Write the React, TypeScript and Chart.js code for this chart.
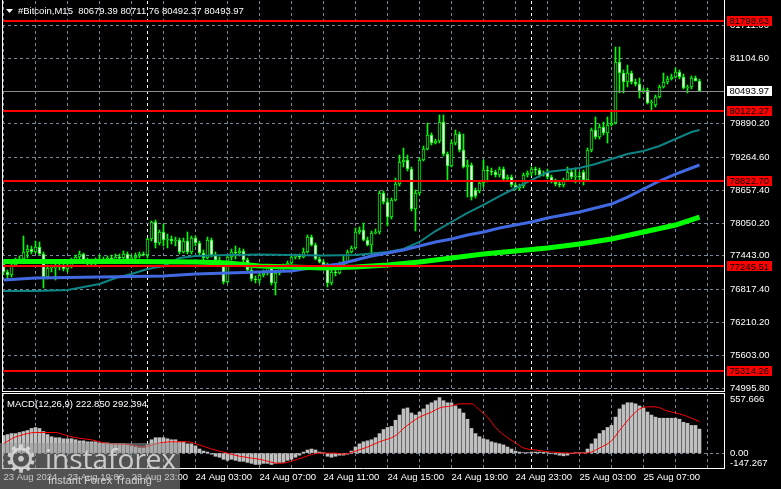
import React, { useEffect, useRef } from "react";
import { Chart, registerables } from "chart.js";

Chart.register(...registerables);

// ---------- DATA ----------
const symbolName = "#Bitcoin,M15";

const open: number[] = [
  77292, 77144, 77088, 77273, 77347, 77384, 77514, 77569, 77514, 77606,
  77477, 77051, 77218, 77218, 77236, 77255, 77199, 77255, 77329, 77421,
  77477, 77366, 77310, 77329, 77347, 77384, 77366, 77402, 77366, 77421,
  77402, 77477, 77384, 77402, 77440, 77477, 77458, 77754, 78069, 77680,
  77884, 77736, 77754, 77717, 77736, 77514, 77717, 77514, 77773, 77680,
  77495, 77402, 77736, 77458, 77366, 77310, 76958, 77421, 77514, 77495,
  77532, 77366, 77181, 77014, 76995, 77088, 77125, 77236, 76940, 77125,
  77218, 77236, 77310, 77421, 77440, 77421, 77514, 77791, 77643, 77384,
  77329, 77273, 76940, 77144, 77125, 77273, 77329, 77514, 77588, 77884,
  77921, 77736, 77643, 77865, 77884, 78606, 78439, 78161, 78476, 78772,
  79180, 79217, 79050, 78310, 78606, 79217, 79420, 79679, 79531, 79568,
  79920, 79328, 79105, 79531, 79698, 79402, 79087, 79124, 78661, 78643,
  78791, 79031, 79013, 78994, 78939, 79050, 78865, 78902, 78754, 78698,
  78735, 78939, 78976, 79050, 79031, 78939, 78994, 78902, 78809, 78772,
  78754, 78846, 78994, 78902, 78920, 78994, 78846, 79402, 79772, 79642,
  79827, 79717, 79864, 79901, 81031, 80827, 80660, 80827, 80660, 80623,
  80494, 80512, 80272, 80235, 80383, 80568, 80660, 80716, 80753, 80845,
  80753, 80549, 80568, 80734, 80679.39,
];

const high: number[] = [
  77347, 77181, 77329, 77402, 77440, 77810, 77643, 77625, 77717, 77699,
  77514, 77273, 77273, 77292, 77292, 77292, 77310, 77402, 77458, 77532,
  77495, 77402, 77384, 77402, 77458, 77421, 77440, 77458, 77477, 77477,
  77532, 77514, 77458, 77495, 77514, 77514, 77773, 78088, 78106, 77921,
  78032, 77847, 77810, 77791, 77773, 77773, 77884, 77810, 77810, 77717,
  77551, 77791, 77773, 77514, 77421, 77347, 77458, 77569, 77625, 77588,
  77569, 77402, 77218, 77070, 77144, 77181, 77273, 77273, 77181, 77273,
  77292, 77347, 77458, 77477, 77477, 77588, 77828, 77828, 77680, 77421,
  77366, 77310, 77218, 77199, 77329, 77458, 77551, 77625, 77958, 77977,
  78050, 77791, 77902, 77939, 78643, 78643, 78513, 78513, 78883, 79309,
  79439, 79309, 79087, 78661, 79254, 79476, 79901, 79717, 79605, 80050,
  80050, 79365, 79587, 79772, 79735, 79698, 79217, 79161, 78698, 78828,
  79217, 79105, 79068, 79031, 79087, 79087, 78939, 78939, 78791, 78772,
  78976, 79013, 79087, 79087, 79068, 79013, 79050, 78939, 78865, 78828,
  78883, 79087, 79031, 79068, 78994, 79031, 79439, 79809, 80013, 79883,
  79920, 80013, 80142, 81308, 81308, 80883, 80975, 80864, 80716, 80734,
  80549, 80549, 80327, 80420, 80605, 80827, 80771, 80808, 80920, 80883,
  80808, 80605, 80771, 80771, 80711.76,
];

const low: number[] = [
  77088, 77014, 77051, 77255, 77310, 77366, 77402, 77477, 77495, 77458,
  76847, 77014, 77144, 76995, 77181, 77162, 77144, 77218, 77310, 77366,
  77329, 77273, 77255, 77273, 77329, 77329, 77329, 77329, 77329, 77347,
  77366, 77347, 77347, 77366, 77402, 77440, 77402, 77717, 77588, 77643,
  77625, 77588, 77662, 77625, 77477, 77495, 77477, 77477, 77625, 77458,
  77366, 77384, 77421, 77329, 77255, 76921, 76940, 77366, 77384, 77440,
  77329, 77144, 76977, 76940, 76940, 77051, 77088, 76903, 76718, 77088,
  77181, 77218, 77292, 77384, 77384, 77402, 77495, 77625, 77366, 77310,
  77236, 76866, 76903, 77070, 77107, 77236, 77310, 77495, 77569, 77847,
  77717, 77625, 77458, 77847, 77847, 78402, 77995, 78124, 78457, 78735,
  79087, 79013, 78273, 77902, 78568, 79198, 79402, 79494, 79513, 79531,
  79291, 78846, 79087, 79494, 79365, 79068, 78531, 78476, 78513, 78606,
  78717, 78809, 78939, 78902, 78902, 78828, 78828, 78717, 78661, 78661,
  78698, 78902, 78920, 78939, 78902, 78920, 78865, 78791, 78735, 78717,
  78717, 78828, 78865, 78791, 78846, 78754, 78828, 79365, 79605, 79605,
  79679, 79531, 79846, 79883, 80457, 80457, 80568, 80623, 80586, 80364,
  80457, 80253, 80142, 80198, 80364, 80549, 80623, 80697, 80734, 80716,
  80531, 80457, 80531, 80679, 80492.37,
];

const close: number[] = [
  77144, 77088, 77273, 77347, 77384, 77514, 77569, 77514, 77606, 77477,
  77051, 77218, 77236, 77236, 77255, 77199, 77255, 77329, 77421, 77477,
  77366, 77310, 77329, 77347, 77384, 77366, 77402, 77366, 77421, 77402,
  77477, 77384, 77402, 77440, 77477, 77458, 77754, 78069, 77680, 77884,
  77736, 77754, 77717, 77736, 77514, 77717, 77514, 77773, 77680, 77495,
  77402, 77736, 77458, 77366, 77310, 76958, 77421, 77514, 77495, 77532,
  77366, 77181, 77014, 76995, 77088, 77125, 77236, 76940, 77125, 77218,
  77236, 77310, 77421, 77440, 77421, 77514, 77791, 77643, 77384, 77329,
  77273, 76940, 77144, 77125, 77273, 77329, 77514, 77588, 77884, 77921,
  77736, 77643, 77865, 77884, 78606, 78439, 78161, 78476, 78772, 79180,
  79217, 79050, 78310, 78606, 79217, 79420, 79679, 79531, 79568, 79920,
  79328, 79105, 79531, 79698, 79402, 79087, 79124, 78531, 78550, 78791,
  79031, 79013, 78994, 78939, 79050, 78865, 78902, 78754, 78698, 78735,
  78939, 78976, 79050, 79031, 78939, 78957, 78902, 78809, 78772, 78754,
  78846, 78994, 78902, 78920, 78902, 78846, 79402, 79772, 79642, 79827,
  79717, 79864, 79901, 81031, 80827, 80660, 80827, 80660, 80623, 80494,
  80512, 80272, 80290, 80383, 80568, 80660, 80716, 80753, 80845, 80753,
  80549, 80568, 80734, 80679, 80493.97,
];

// moving averages (bar index -> value)
const tealIdx = [0, 8, 16, 20, 24, 28, 32, 36, 40, 44, 48, 56, 64, 72, 80, 88, 96, 100, 104, 108, 112, 116, 120, 124, 128, 132, 136, 140, 144, 148, 152, 156, 160, 164, 168, 172, 174];
const tealVal = [76792, 76792, 76810, 76866, 76921, 77033, 77107, 77199, 77255, 77402, 77440, 77458, 77468, 77458, 77449, 77458, 77514, 77569, 77699, 77902, 78069, 78236, 78384, 78550, 78698, 78846, 78994, 79031, 79068, 79143, 79235, 79328, 79383, 79476, 79605, 79735, 79772];

const blueIdx = [0, 8, 16, 32, 40, 44, 48, 56, 64, 72, 80, 84, 88, 92, 96, 100, 104, 108, 112, 116, 120, 124, 128, 132, 136, 140, 144, 148, 152, 156, 160, 164, 168, 174];
const blueVal = [76995, 77033, 77042, 77060, 77070, 77088, 77107, 77125, 77144, 77162, 77255, 77292, 77366, 77440, 77495, 77551, 77625, 77699, 77754, 77828, 77884, 77958, 78013, 78069, 78143, 78198, 78254, 78328, 78402, 78531, 78680, 78828, 78957, 79124];

const limeIdx = [0, 16, 32, 48, 56, 64, 72, 80, 88, 96, 104, 112, 120, 128, 136, 144, 152, 160, 168, 174];
const limeVal = [77338, 77338, 77338, 77329, 77310, 77255, 77236, 77218, 77236, 77273, 77329, 77402, 77477, 77532, 77588, 77662, 77754, 77884, 78013, 78161];

// horizontal levels and last price
const levels = [81798.63, 80122.27, 78822.7, 77245.51, 75314.26];
const lastPrice = 80493.97;

// price axis
const priceRange = [74922.3, 82159.7];
const priceTicks = [74995.8, 75603.0, 76210.2, 76817.4, 77443.0, 78050.2, 78657.4, 79264.6, 79890.2, 81104.6, 81711.0];

// time axis
const timeLabelIdx = [0, 16, 32, 48, 64, 80, 96, 112, 128, 144, 160];
const timeLabels = ["23 Aug 2024", "23 Aug 19:00", "23 Aug 23:00", "24 Aug 03:00", "24 Aug 07:00", "24 Aug 11:00", "24 Aug 15:00", "24 Aug 19:00", "24 Aug 23:00", "25 Aug 03:00", "25 Aug 07:00"];
const daySepIdx = [36, 132];

// MACD
const macdParams = "MACD(12,26,9)";
const macdMain = 222.85;
const macdSignalLast = 292.394;
const macdRange = [-147.267, 557.666];
const macdHist: number[] = [
  162, 172, 181, 181, 191, 200, 210, 229, 238, 229,
  200, 172, 152, 143, 143, 133, 133, 133, 124, 114,
  114, 105, 105, 105, 95, 95, 95, 86, 86, 86,
  86, 76, 67, 57, 48, 48, 76, 124, 143, 143,
  143, 133, 124, 124, 105, 105, 86, 86, 67, 38,
  19, 10, -10, -29, -38, -57, -67, -57, -67, -76,
  -76, -86, -95, -105, -105, -95, -95, -105, -95, -86,
  -86, -67, -57, -38, -19, 10, 29, 38, 29, 10,
  3, -29, -38, -29, -19, -19, -10, 19, 57, 86,
  105, 114, 124, 143, 181, 219, 238, 248, 305, 353,
  410, 419, 372, 353, 381, 410, 448, 467, 486, 515,
  486, 467, 467, 438, 410, 372, 314, 229, 181, 152,
  133, 124, 105, 95, 86, 76, 57, 38, 19, 10,
  3, 2, 10, 10, 10, 8, 2, -6, -10, -19,
  -25, -19, -3, 2, 3, 4, 38, 86, 133, 181,
  210, 238, 257, 334, 410, 448, 467, 467, 457, 438,
  419, 381, 353, 334, 324, 324, 324, 324, 324, 314,
  286, 276, 257, 257, 222.85,
];
const sigIdx = [0, 2, 4, 8, 13, 15, 18, 22, 25, 32, 35, 38, 42, 46, 49, 52, 56, 59, 64, 69, 72, 75, 79, 83, 85, 88, 91, 94, 98, 100, 102, 104, 107, 109, 112, 114, 117, 119, 121, 123, 126, 128, 130, 133, 137, 142, 145, 147, 149, 152, 154, 157, 159, 161, 163, 166, 168, 170, 172, 174];
const sigVal = [86, 133, 162, 191, 191, 172, 143, 124, 95, 76, 57, 86, 105, 105, 76, 38, 0, -29, -57, -95, -76, -38, 0, 0, -10, 19, 57, 105, 162, 229, 286, 334, 381, 419, 438, 457, 457, 400, 334, 238, 143, 95, 48, 29, 10, 0, 0, 10, 48, 114, 210, 343, 410, 429, 429, 391, 372, 353, 324, 292.394];

// ---------- STYLE ----------
const FONT = "'Liberation Sans', Arial, sans-serif";
const FSIZE = 9.5;
const GRID = "#778899";
const X_MIN = -0.375;
const X_MAX = 180.375;
const AXIS_W = 56;

Chart.defaults.font.family = FONT;
Chart.defaults.font.size = FSIZE;
Chart.defaults.color = "#ffffff";

const gridIdx: number[] = [];
for (let i = 0; i <= 176; i += 8) gridIdx.push(i);

function xScale(showLabels: boolean): any {
  return {
    type: "linear",
    min: X_MIN,
    max: X_MAX,
    offset: false,
    afterBuildTicks: (s: any) => {
      s.ticks = [...gridIdx, ...daySepIdx].sort((a, b) => a - b).map((v) => ({ value: v }));
    },
    afterFit: (s: any) => {
      s.height = showLabels ? 20 : 0;
      s.paddingLeft = 0;
      s.paddingRight = 0;
      s.paddingTop = 0;
      s.paddingBottom = 0;
    },
    grid: {
      color: (c: any) => (c.tick && daySepIdx.includes(c.tick.value) ? "#ffffff" : GRID),
      lineWidth: 1,
      drawTicks: false,
      offset: false,
    },
    border: { display: false, dash: [3, 3] },
    ticks: {
      display: showLabels,
      autoSkip: false,
      maxRotation: 0,
      minRotation: 0,
      align: "start",
      padding: 3,
      color: "#ffffff",
      font: { family: FONT, size: FSIZE },
      callback: (v: any) => {
        const k = timeLabelIdx.indexOf(Number(v));
        return k >= 0 ? timeLabels[k] : "";
      },
    },
  };
}

function yFit(s: any) {
  s.width = AXIS_W;
  s.paddingTop = 0;
  s.paddingBottom = 0;
  s.paddingLeft = 0;
  s.paddingRight = 0;
}

function frame(ctx: CanvasRenderingContext2D, a: any, top: boolean) {
  ctx.save();
  ctx.strokeStyle = "#ffffff";
  ctx.lineWidth = 1;
  ctx.beginPath();
  ctx.moveTo(a.left + 0.5, top ? a.top : 0);
  ctx.lineTo(a.left + 0.5, a.bottom);
  ctx.moveTo(a.right - 0.5, top ? a.top : 0);
  ctx.lineTo(a.right - 0.5, a.bottom);
  ctx.moveTo(a.left, a.bottom - 0.5);
  ctx.lineTo(a.right, a.bottom - 0.5);
  if (top) {
    ctx.moveTo(a.left, a.top + 0.5);
    ctx.lineTo(a.right, a.top + 0.5);
  }
  ctx.stroke();
  ctx.restore();
}

const mainOverlay = {
  id: "mainOverlay",
  afterDatasetsDraw(chart: any) {
    const { ctx, chartArea: a, scales } = chart;
    const y = scales.y;
    ctx.save();
    ctx.beginPath();
    ctx.rect(a.left, a.top, a.right - a.left, a.bottom - a.top);
    ctx.clip();
    const py = Math.round(y.getPixelForValue(lastPrice)) + 0.5;
    ctx.strokeStyle = "#8c8c8c";
    ctx.lineWidth = 1;
    ctx.beginPath();
    ctx.moveTo(a.left, py);
    ctx.lineTo(a.right, py);
    ctx.stroke();
    ctx.strokeStyle = "#ff0000";
    ctx.lineWidth = 2;
    levels.forEach((v) => {
      const ly = Math.round(y.getPixelForValue(v));
      ctx.beginPath();
      ctx.moveTo(a.left, ly);
      ctx.lineTo(a.right, ly);
      ctx.stroke();
    });
    ctx.restore();
  },
  afterDraw(chart: any) {
    const { ctx, chartArea: a, scales } = chart;
    const y = scales.y;
    frame(ctx, a, false);
    ctx.save();
    ctx.font = `${FSIZE}px ${FONT}`;
    ctx.textBaseline = "middle";
    ctx.textAlign = "left";
    const box = (v: number, bg: string) => {
      const ly = y.getPixelForValue(v);
      ctx.fillStyle = bg;
      ctx.fillRect(a.right + 2, Math.round(ly) - 5, 45, 10);
      ctx.fillStyle = "#000000";
      ctx.fillText(v.toFixed(2), a.right + 4.5, ly + 0.5);
    };
    levels.forEach((v) => box(v, "#ff0000"));
    box(lastPrice, "#ffffff");
    // header
    ctx.fillStyle = "#ffffff";
    ctx.beginPath();
    ctx.moveTo(6, 9);
    ctx.lineTo(13, 9);
    ctx.lineTo(9.5, 13);
    ctx.closePath();
    ctx.fill();
    const n = open.length - 1;
    const hdr = `${symbolName}  ${open[n].toFixed(2)} ${high[n].toFixed(2)} ${low[n].toFixed(2)} ${close[n].toFixed(2)}`;
    ctx.textBaseline = "alphabetic";
    ctx.fillText(hdr, 18, 14);
    ctx.restore();
  },
};

const macdOverlay = {
  id: "macdOverlay",
  afterDraw(chart: any) {
    const { ctx, chartArea: a } = chart;
    frame(ctx, a, true);
    ctx.save();
    ctx.font = `${FSIZE}px ${FONT}`;
    ctx.fillStyle = "#ffffff";
    ctx.textAlign = "left";
    ctx.textBaseline = "top";
    ctx.fillText(macdRange[1].toFixed(3), a.right + 5, a.top + 2);
    ctx.textBaseline = "bottom";
    ctx.fillText(macdRange[0].toFixed(3), a.right + 5, a.bottom - 1);
    ctx.textBaseline = "alphabetic";
    ctx.fillText(`${macdParams} ${macdMain.toFixed(3)} ${macdSignalLast.toFixed(3)}`, 7, a.top + 13.5);
    ctx.restore();
  },
};

function mainConfig(): any {
  const idx = open.map((_, i) => i);
  return {
    type: "bar",
    data: {
      datasets: [
        {
          type: "line",
          data: limeIdx.map((x, k) => ({ x, y: limeVal[k] })),
          borderColor: "#00ff00",
          borderWidth: 5,
          pointRadius: 0,
          order: 1,
        },
        {
          type: "line",
          data: blueIdx.map((x, k) => ({ x, y: blueVal[k] })),
          borderColor: "#4169e1",
          borderWidth: 3,
          pointRadius: 0,
          order: 1,
        },
        {
          type: "line",
          data: tealIdx.map((x, k) => ({ x, y: tealVal[k] })),
          borderColor: "#0e8585",
          borderWidth: 2,
          pointRadius: 0,
          order: 1,
        },
        {
          type: "bar",
          data: idx.map((i) => ({ x: i, y: [low[i], high[i]] })),
          backgroundColor: "#00ff00",
          borderWidth: 0,
          barThickness: 1,
          grouped: false,
          order: 3,
        },
        {
          type: "bar",
          data: idx.map((i) => ({ x: i, y: [open[i], close[i]] })),
          backgroundColor: idx.map((i) => (close[i] > open[i] ? "#000000" : "#ffffff")),
          borderColor: "#00ff00",
          borderWidth: 1,
          borderSkipped: false,
          barThickness: 3,
          minBarLength: 1,
          grouped: false,
          order: 2,
        },
      ],
    },
    options: {
      responsive: false,
      animation: false,
      events: [],
      layout: { padding: { left: 2, top: 1, right: 0, bottom: 1 } },
      plugins: { legend: { display: false }, tooltip: { enabled: false } },
      scales: {
        x: xScale(false),
        y: {
          type: "linear",
          position: "right",
          min: priceRange[0],
          max: priceRange[1],
          afterBuildTicks: (s: any) => {
            s.ticks = priceTicks.map((v) => ({ value: v }));
          },
          afterFit: yFit,
          grid: { color: GRID, lineWidth: 1, drawTicks: false },
          border: { display: false, dash: [3, 3] },
          ticks: {
            autoSkip: false,
            padding: 5,
            color: "#ffffff",
            font: { family: FONT, size: FSIZE },
            callback: (v: any) => Number(v).toFixed(2),
          },
        },
      },
    },
    plugins: [mainOverlay],
  };
}

function macdConfig(): any {
  return {
    type: "bar",
    data: {
      datasets: [
        {
          type: "line",
          data: sigIdx.map((x, k) => ({ x, y: sigVal[k] })),
          borderColor: "#ff0000",
          borderWidth: 1,
          pointRadius: 0,
          cubicInterpolationMode: "monotone",
          order: 1,
        },
        {
          type: "bar",
          data: macdHist.map((v, i) => ({ x: i, y: v })),
          backgroundColor: "#c0c0c0",
          borderWidth: 0,
          barThickness: 3,
          grouped: false,
          order: 2,
        },
      ],
    },
    options: {
      responsive: false,
      animation: false,
      events: [],
      layout: { padding: { left: 2, top: 0, right: 0, bottom: 0 } },
      plugins: { legend: { display: false }, tooltip: { enabled: false } },
      scales: {
        x: xScale(true),
        y: {
          type: "linear",
          position: "right",
          min: macdRange[0],
          max: macdRange[1],
          afterBuildTicks: (s: any) => {
            s.ticks = [{ value: 0 }];
          },
          afterFit: yFit,
          grid: { color: GRID, lineWidth: 1, drawTicks: false },
          border: { display: false, dash: [3, 3] },
          ticks: {
            autoSkip: false,
            padding: 5,
            color: "#ffffff",
            font: { family: FONT, size: FSIZE },
            callback: (v: any) => Number(v).toFixed(2),
          },
        },
      },
    },
    plugins: [macdOverlay],
  };
}

export default function App() {
  const mainRef = useRef<HTMLCanvasElement>(null);
  const macdRef = useRef<HTMLCanvasElement>(null);

  useEffect(() => {
    const c1 = new Chart(mainRef.current as HTMLCanvasElement, mainConfig());
    const c2 = new Chart(macdRef.current as HTMLCanvasElement, macdConfig());
    return () => {
      c1.destroy();
      c2.destroy();
    };
  }, []);

  return (
    <div
      style={{
        position: "fixed",
        left: 0,
        top: 0,
        width: 781,
        height: 489,
        background: "#000000",
        overflow: "hidden",
      }}
    >
      <canvas
        ref={mainRef}
        width={781}
        height={393}
        style={{ position: "absolute", left: 0, top: 0, width: 781, height: 393 }}
      />
      <canvas
        ref={macdRef}
        width={781}
        height={96}
        style={{ position: "absolute", left: 0, top: 393, width: 781, height: 96 }}
      />
      <div
        style={{
          position: "absolute",
          left: 0,
          top: 443,
          width: 180,
          height: 46,
          background: "rgba(150,150,150,0.55)",
          pointerEvents: "none",
        }}
      >
        <span
          style={{
            position: "absolute",
            left: 4,
            top: -4,
            fontFamily: "'DejaVu Sans', sans-serif",
            fontSize: 38,
            lineHeight: "40px",
            color: "rgba(225,225,225,0.85)",
          }}
        >
          ⚙
        </span>
        <span
          style={{
            position: "absolute",
            left: 45,
            top: 1,
            fontFamily: "'Open Sans', sans-serif",
            fontSize: 28,
            lineHeight: "28px",
            color: "rgba(225,225,225,0.85)",
          }}
        >
          instaforex
        </span>
        <span
          style={{
            position: "absolute",
            left: 48,
            top: 31,
            fontFamily: FONT,
            fontSize: 11,
            lineHeight: "13px",
            color: "rgba(225,225,225,0.85)",
          }}
        >
          Instant Forex Trading
        </span>
      </div>
    </div>
  );
}
